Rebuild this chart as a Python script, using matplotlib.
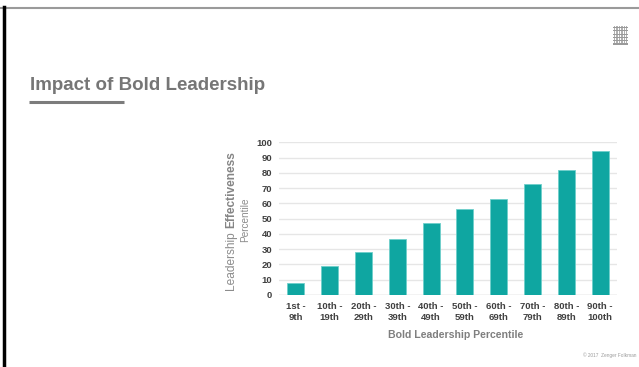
import numpy as np
import matplotlib
matplotlib.use("Agg")
import matplotlib.pyplot as plt
from matplotlib.patches import Rectangle
from matplotlib.lines import Line2D

# Bold leadership bands and the matching effectiveness percentile
categories = ["1st -\n9th", "10th -\n19th", "20th -\n29th", "30th -\n39th", "40th -\n49th",
              "50th -\n59th", "60th -\n69th", "70th -\n79th", "80th -\n89th", "90th -\n100th"]
effectiveness = [8, 19, 28, 37, 47, 56, 63, 73, 82, 94]
y_ticks = [0, 10, 20, 30, 40, 50, 60, 70, 80, 90, 100]

W, H = 639, 367
plt.rcParams['font.family'] = ['Liberation Sans', 'DejaVu Sans']

fig = plt.figure(figsize=(W / 100, H / 100), dpi=100)
fig.patch.set_facecolor("white")

def fx(px):
    return px / W

def fy(py):
    return 1 - py / H

# Slide frame
fig.add_artist(Line2D([fx(1), fx(639)], [fy(8), fy(8)], color="#9a9a9a", lw=1.5))
fig.add_artist(Line2D([fx(4), fx(4)], [fy(7), fy(367)], color="black", lw=2.5))

# Title and underline
fig.text(fx(29.5), fy(85), "Impact of Bold Leadership", fontsize=13.5, fontweight="bold",
         color="#767676", ha="left", va="center")
fig.add_artist(Line2D([fx(29), fx(124)], [fy(101.5), fy(101.5)], color="#7c7c7c", lw=2.2,
                      solid_capstyle="butt"))

# Small logo in the corner
for i in range(6):
    fig.add_artist(Rectangle((fx(614 + i * 2.4), fy(45)), fx(1.3), 19 / H, color="#b0b0b0", lw=0))
for j in range(6):
    fig.add_artist(Rectangle((fx(613), fy(28 + j * 3.3)), fx(15), 1 / H, color="#9a9a9a", lw=0))

ax = fig.add_axes([fx(279), fy(295), fx(617 - 279), (295 - 142.3) / H])
x = np.arange(len(categories))
ax.bar(x, effectiveness, width=0.5, color="#0fa6a1", edgecolor="#6fcfcb", linewidth=0.6, zorder=3)

ax.set_xlim(-0.5, len(categories) - 0.5)
ax.set_ylim(0, 100)
ax.set_yticks(y_ticks)
ax.set_xticks(x)
ax.set_xticklabels(categories, fontsize=6.8, fontweight="bold", color="#404040", linespacing=1.25)
ax.set_yticklabels([str(t) for t in y_ticks], fontsize=6.8, fontweight="bold", color="#404040")
ax.tick_params(axis="both", length=0)
ax.tick_params(axis="y", pad=5)
ax.tick_params(axis="x", pad=5)
ax.grid(axis="y", color="#e6e6e6", lw=1, zorder=0)
for s in ax.spines.values():
    s.set_visible(False)
ax.axhline(0, color="#d9d9d9", lw=1, zorder=2)

# Axis titles
fig.text(fx(456), fy(335), "Bold Leadership Percentile", fontsize=7.6, fontweight="bold",
         color="#7f7f7f", ha="center", va="center")
fig.text(fx(231), fy(290), "Leadership", fontsize=8.6, color="#8c8c8c", rotation=90,
         ha="center", va="bottom")
fig.text(fx(231), fy(151), "Effectiveness", fontsize=8.6, fontweight="bold", color="#858585",
         rotation=90, ha="center", va="top")
fig.text(fx(245), fy(220), "Percentile", fontsize=7.2, color="#8c8c8c", rotation=90,
         ha="center", va="center")

fig.text(fx(636), fy(355), "\u00a9 2017  Zenger Folkman", fontsize=3.4, color="#9a9a9a",
         ha="right", va="center")

fig.savefig("out.png", dpi=100)
